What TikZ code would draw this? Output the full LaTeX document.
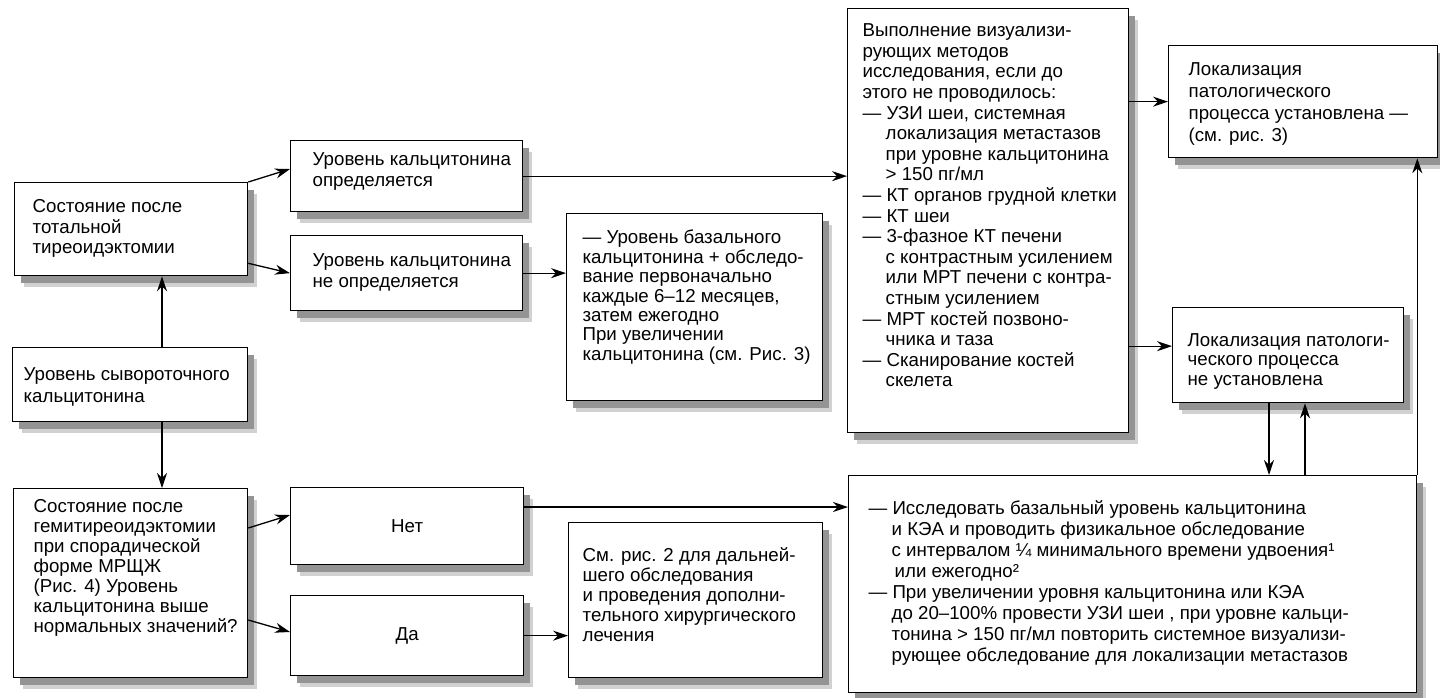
\documentclass[tikz,border=0pt]{standalone}
\usepackage{fontspec}
\setmainfont{Liberation Sans}
\usetikzlibrary{arrows.meta,shadows,calc}
% #1 width, #2 left pad, #3 raise, #4 line pitch, #5 lines
\newcommand\bxt[5]{\raisebox{#3pt}[\height][\depth]{\makebox[#1pt][l]{\hspace*{#2pt}\fontsize{18.7pt}{#4pt}\selectfont\begin{tabular}{@{}l@{}}#5\end{tabular}}}}
\newcommand\myind{\hspace*{23pt}}
\begin{document}
\begin{tikzpicture}[x=1pt,y=-1pt,
  box/.style={draw=black, line width=1.3pt, fill=white, inner sep=0pt, anchor=north west,
    general shadow={shadow xshift=9pt, shadow yshift=-11pt, fill=black!18},
    general shadow={shadow xshift=6pt, shadow yshift=-7pt, fill=black!42}},
  arr/.style={line width=1.3pt, -{Stealth[length=15pt,width=10pt]}},
  ctext/.style={font=\fontsize{18.7pt}{20pt}\selectfont}]
\useasboundingbox (0,0) rectangle (1440,697);

% left column
\node[box, minimum width=233pt, minimum height=93pt] (A) at (14,182)
  {\bxt{233}{18}{0}{20.5}{Состояние после\\тотальной\\тиреоидэктомии}};
\node[box, minimum width=235pt, minimum height=74pt] (H) at (12,347)
  {\bxt{235}{11}{-2}{22}{Уровень сывороточного\\кальцитонина}};
\node[box, minimum width=234pt, minimum height=189pt] (I) at (13,488)
  {\bxt{234}{20}{15}{20}{Состояние после\\гемитиреоидэктомии\\при спорадической\\форме МРЩЖ\\(Рис. 4) Уровень\\кальцитонина выше\\нормальных значений?}};

% second column
\node[box, minimum width=232pt, minimum height=71pt] (B) at (290,140)
  {\bxt{232}{22}{4}{21}{Уровень кальцитонина\\определяется}};
\node[box, minimum width=232pt, minimum height=75pt] (C) at (290,235)
  {\bxt{232}{22}{0}{21}{Уровень кальцитонина\\не определяется}};
\node[box, minimum width=233pt, minimum height=77pt, ctext] (J) at (290,487) {Нет};
\node[box, minimum width=233pt, minimum height=80pt, ctext] (K) at (290,595) {Да};

% third column
\node[box, minimum width=256pt, minimum height=187pt] (D) at (566,213)
  {\bxt{256}{16}{9}{19.4}{— Уровень базального\\кальцитонина + обследо-\\вание первоначально\\каждые 6–12 месяцев,\\затем ежегодно\\При увеличении\\кальцитонина (см. Рис. 3)}};
\node[box, minimum width=254pt, minimum height=155pt] (L) at (568,522)
  {\bxt{254}{14}{2.5}{20}{См. рис. 2 для дальней-\\шего обследования\\и проведения дополни-\\тельного хирургического\\лечения}};

% big box
\node[box, minimum width=281pt, minimum height=424pt] (E) at (847,8)
  {\bxt{281}{15}{13}{20.6}{Выполнение визуализи-\\рующих методов\\исследования, если до\\этого не проводилось:\\— УЗИ шеи, системная\\\myind локализация метастазов\\\myind при уровне кальцитонина\\\myind > 150 пг/мл\\— КТ органов грудной клетки\\— КТ шеи\\— 3-фазное КТ печени\\\myind с контрастным усилением\\\myind или МРТ печени с контра-\\\myind стным усилением\\— МРТ костей позвоно-\\\myind чника и таза\\— Сканирование костей\\\myind скелета}};

% right column
\node[box, minimum width=269pt, minimum height=112pt] (F) at (1168,45)
  {\bxt{269}{20}{-2}{22}{Локализация\\патологического\\процесса установлена —\\(см. рис. 3)}};
\node[box, minimum width=231pt, minimum height=95pt] (G) at (1172,307)
  {\bxt{231}{15}{-6.5}{19.5}{Локализация патологи-\\ческого процесса\\не установлена}};

% bottom box
\node[box, minimum width=568pt, minimum height=217pt] (M) at (848,475)
  {\bxt{568}{20}{0}{21}{— Исследовать базальный уровень кальцитонина\\\myind и КЭА и проводить физикальное обследование\\\myind с интервалом ¼ минимального времени удвоения¹\\\myind\hspace*{3pt}или ежегодно²\\— При увеличении уровня кальцитонина или КЭА\\\myind до 20–100\% провести УЗИ шеи , при уровне кальци-\\\myind тонина > 150 пг/мл повторить системное визуализи-\\\myind рующее обследование для локализации метастазов}};

% helper coordinates
\coordinate (v1) at (162,0);
\coordinate (d1) at (1269,0);
\coordinate (u1) at (1305,0);
\coordinate (g1) at ($(G.west)+(0,-9)$);
\coordinate (j1) at ($(J.north east)+(0,20)$);

% connectors
\draw[arr] (A.north east) -- ($(B.north west)+(0,29)$);
\draw[arr] ($(A.south east)+(0,-13)$) -- (C.west);
\draw[arr] (B.east) -- (B.east -| E.west);
\draw[arr] (C.east) -- (C.east -| D.west);
\draw[arr] (F.west -| E.east) -- (F.west);
\draw[arr] (g1 -| E.east) -- (g1);
\draw[arr] (H.north -| v1) -- (A.south -| v1);
\draw[arr] (H.south -| v1) -- (I.north -| v1);
\draw[arr] ($(I.north east)+(0,40)$) -- ($(J.north west)+(0,28)$);
\draw[arr] ($(I.north east)+(0,132)$) -- ($(K.north west)+(0,37)$);
\draw[arr] (j1) -- (j1 -| M.west);
\draw[arr] (K.east) -- (K.east -| L.west);
\draw[arr] (G.south -| d1) -- (M.north -| d1);
\draw[arr] (M.north -| u1) -- (G.south -| u1);
\draw[arr] (M.north east) -- (M.north east |- F.south);
\end{tikzpicture}
\end{document}
